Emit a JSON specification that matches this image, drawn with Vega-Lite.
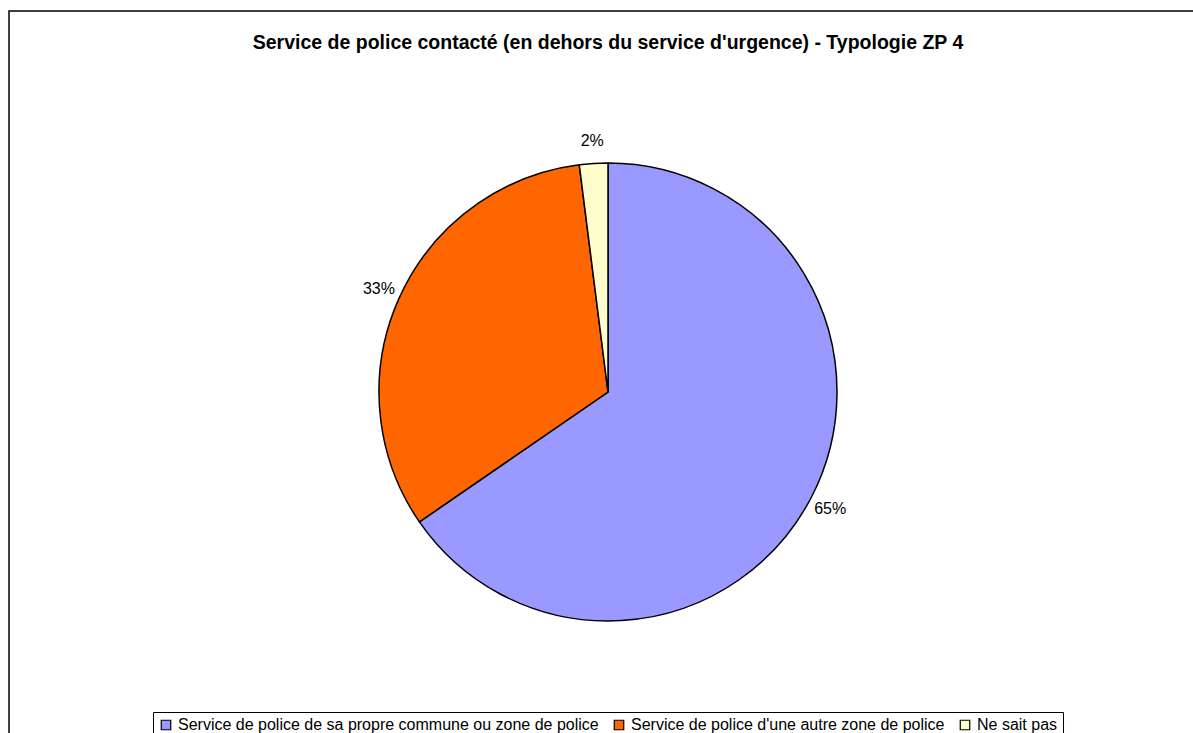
{
  "$schema": "https://vega.github.io/schema/vega-lite/v6.json",
  "width": 1198,
  "height": 762,
  "autosize": {"type": "none"},
  "padding": {"left": 9, "top": 11, "right": -14, "bottom": -40},
  "background": "white",
  "view": {"stroke": "black", "strokeWidth": 1.5, "fill": "white"},
  "title": {
    "text": "Service de police contacté (en dehors du service d'urgence) - Typologie ZP 4",
    "font": "Liberation Sans",
    "fontSize": 19.5,
    "fontWeight": "bold",
    "color": "black",
    "anchor": "middle",
    "baseline": "alphabetic",
    "offset": -57
  },
  "data": {
    "values": [
      {"categorie": "Service de police de sa propre commune ou zone de police", "part": 0.654, "ordre": 1},
      {"categorie": "Service de police d'une autre zone de police", "part": 0.326, "ordre": 2},
      {"categorie": "Ne sait pas", "part": 0.02, "ordre": 3}
    ]
  },
  "encoding": {
    "theta": {"field": "part", "type": "quantitative", "stack": true},
    "order": {"field": "ordre", "type": "quantitative"},
    "color": {
      "field": "categorie",
      "type": "nominal",
      "scale": {
        "domain": [
          "Service de police de sa propre commune ou zone de police",
          "Service de police d'une autre zone de police",
          "Ne sait pas"
        ],
        "range": ["#9999FF", "#FF6600", "#FFFFCC"]
      },
      "legend": {
        "title": null,
        "orient": "none",
        "legendX": 144,
        "legendY": 701,
        "direction": "horizontal",
        "strokeColor": "black",
        "fillColor": "white",
        "padding": 5,
        "symbolType": "square",
        "symbolSize": 90,
        "symbolStrokeColor": "black",
        "symbolStrokeWidth": 1.2,
        "symbolOpacity": 1,
        "labelFont": "Liberation Sans",
        "labelFontSize": 16,
        "labelColor": "black",
        "labelLimit": 0,
        "labelOffset": 4,
        "columnPadding": 12
      }
    }
  },
  "layer": [
    {"mark": {"type": "arc", "outerRadius": 229, "stroke": "black", "strokeWidth": 1.5}},
    {
      "mark": {"type": "text", "radius": 251, "fontSize": 16, "font": "Liberation Sans", "align": "center", "baseline": "middle"},
      "encoding": {
        "text": {"field": "part", "type": "quantitative", "format": ".0%"},
        "color": {"value": "black"}
      }
    }
  ]
}
